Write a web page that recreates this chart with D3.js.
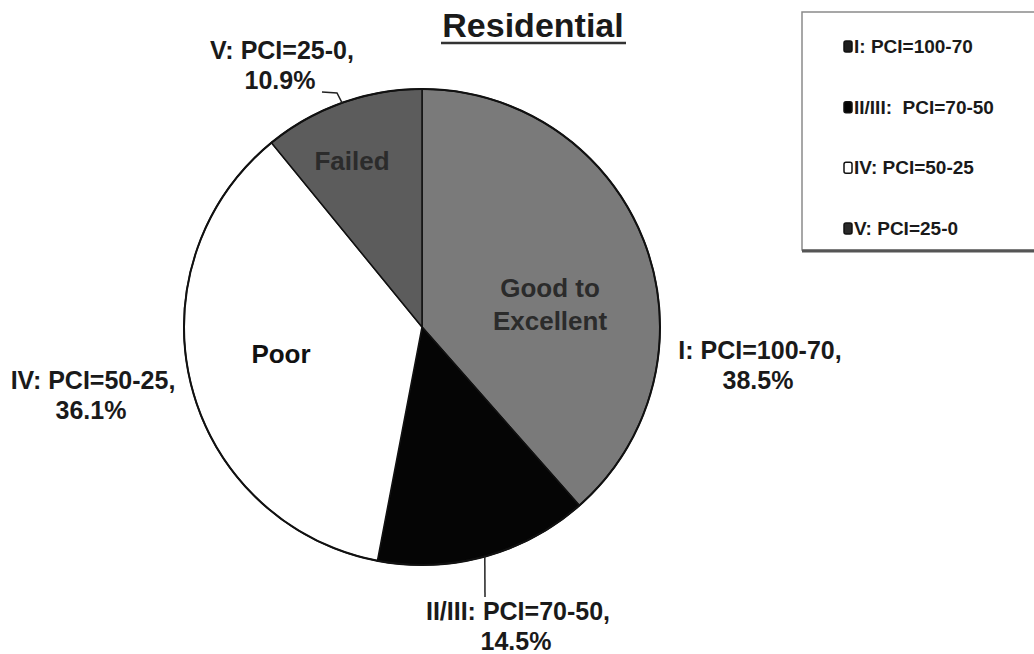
<!DOCTYPE html>
<html>
<head>
<meta charset="utf-8">
<script src="https://cdn.jsdelivr.net/npm/d3@7"></script>
<style>
  body { margin: 0; background: #fff; }
  svg { font-family: "Liberation Sans", Arial, sans-serif; font-weight: bold; }
</style>
</head>
<body>
<div id="chart"></div>
<script>
// pavement condition shares, clockwise from 12 o'clock
var classes = ["I", "II/III", "IV", "V"];
var shares = [38.5, 14.5, 36.1, 10.9];
var rangeLabels = ["I: PCI=100-70,", "II/III: PCI=70-50,", "IV: PCI=50-25,", "V: PCI=25-0,"];
var legendLabels = ["I: PCI=100-70", "II/III:  PCI=70-50", "IV: PCI=50-25", "V: PCI=25-0"];
var sliceColors = ["#7a7a7a", "#050505", "#ffffff", "#5c5c5c"];
var swatchColors = ["#1e1e1e", "#050505", "#ffffff", "#2a2a2a"];
var conditionNames = [["Good to", "Excellent"], [], ["Poor"], ["Failed"]];

var width = 1034, height = 654;
var cx = 422, cy = 327, radius = 238;

var svg = d3.select("#chart").append("svg")
    .attr("width", width)
    .attr("height", height);

// title
svg.append("text")
    .attr("x", 533)
    .attr("y", 37)
    .attr("text-anchor", "middle")
    .style("font-size", "34px")
    .attr("fill", "#1a1a1a")
    .text("Residential");
svg.append("line")
    .attr("x1", 441).attr("x2", 626)
    .attr("y1", 43).attr("y2", 43)
    .attr("stroke", "#333")
    .attr("stroke-width", 2.5);

var pie = d3.pie().sort(null).value(function(d) { return d; });
var arcs = pie(shares);

var arc = d3.arc().innerRadius(0).outerRadius(radius);
var rimArc = d3.arc().innerRadius(radius).outerRadius(radius);

var g = svg.append("g")
    .attr("transform", "translate(" + cx + "," + cy + ")");

g.selectAll("path.slice")
    .data(arcs)
    .enter().append("path")
    .attr("class", "slice")
    .attr("d", arc)
    .attr("fill", function(d, i) { return sliceColors[i]; })
    .attr("stroke", "#111")
    .attr("stroke-width", 1.5);

g.append("circle")
    .attr("r", radius)
    .attr("fill", "none")
    .attr("stroke", "#111")
    .attr("stroke-width", 2);

// names written inside the slices
var namePos = [[128, -30], null, [-141, 36], [-70, -157]];
var nameColors = ["#2b2b2b", null, "#111", "#2b2b2b"];
conditionNames.forEach(function(lines, i) {
    if (!lines.length) return;
    var t = g.append("text")
        .attr("text-anchor", "middle")
        .style("font-size", "26px")
        .attr("fill", nameColors[i]);
    lines.forEach(function(s, k) {
        t.append("tspan")
            .attr("x", namePos[i][0])
            .attr("y", namePos[i][1] + k * 33)
            .text(s);
    });
});

// outer labels: range + percentage
var labelPos = [[760, 359], [518, 620], [93, 389], [282, 59]];
rangeLabels.forEach(function(s, i) {
    var t = svg.append("text")
        .attr("text-anchor", "middle")
        .style("font-size", "25px")
        .attr("fill", "#1a1a1a");
    t.append("tspan").attr("x", labelPos[i][0]).attr("y", labelPos[i][1]).text(s);
    t.append("tspan").attr("x", labelPos[i][0] - 2).attr("y", labelPos[i][1] + 30)
        .text(d3.format(".1f")(shares[i]) + "%");
});

// leader lines for the two small slices
var leaders = [
    {i: 1, pts: [[485, 597]]},
    {i: 3, pts: [[337, 93], [322, 92]]}
];
leaders.forEach(function(l) {
    var c = rimArc.centroid(arcs[l.i]);
    var pts = [[c[0] + cx, c[1] + cy]].concat(l.pts);
    svg.append("path")
        .attr("d", d3.line()(pts))
        .attr("fill", "none")
        .attr("stroke", "#222")
        .attr("stroke-width", 1.5);
});

// legend
var lg = svg.append("g").attr("transform", "translate(802,12)");
lg.append("rect")
    .attr("width", 260)
    .attr("height", 238)
    .attr("fill", "#fff")
    .attr("stroke", "#8a8a8a")
    .attr("stroke-width", 1.5);
lg.append("line")
    .attr("x1", 0).attr("x2", 260)
    .attr("y1", 239).attr("y2", 239)
    .attr("stroke", "#555")
    .attr("stroke-width", 3);

var y = d3.scalePoint().domain(classes).range([41, 223]);

var item = lg.selectAll("g.item")
    .data(classes)
    .enter().append("g")
    .attr("class", "item")
    .attr("transform", function(d) { return "translate(0," + y(d) + ")"; });

item.append("rect")
    .attr("x", 42).attr("y", -12)
    .attr("width", 8).attr("height", 11)
    .attr("rx", 2)
    .attr("fill", function(d, i) { return swatchColors[i]; })
    .attr("stroke", "#111")
    .attr("stroke-width", 1.5);

item.append("text")
    .attr("x", 52)
    .attr("y", 0)
    .style("font-size", "19px")
    .style("white-space", "pre")
    .attr("fill", "#1a1a1a")
    .text(function(d, i) { return legendLabels[i]; });
</script>
</body>
</html>
